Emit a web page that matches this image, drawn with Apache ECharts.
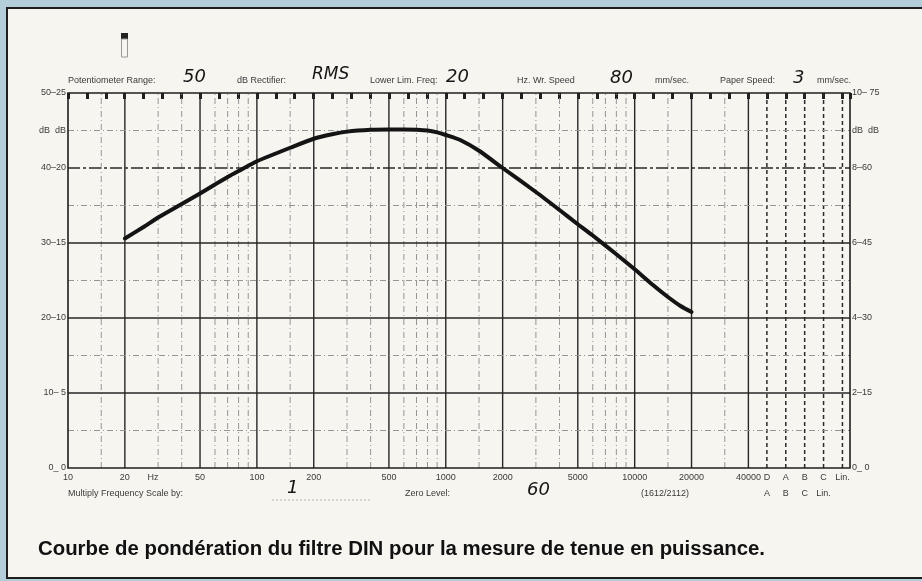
<!DOCTYPE html>
<html>
<head>
<meta charset="utf-8">
<title>Courbe de pondération du filtre DIN</title>
<script src="https://cdn.jsdelivr.net/npm/echarts@6/dist/echarts.min.js"></script>
<style>
  html, body { margin: 0; padding: 0; background: #b3cdd9; }
  #chart { width: 922px; height: 581px; }
</style>
</head>
<body>
<div id="chart"></div>
<script>
// Measured response of the DIN weighting filter (level recorder trace)
const freqHz = [20, 25, 30, 40, 50, 60, 70, 80, 100, 125, 150, 200, 250, 300, 400, 500,
  600, 700, 800, 900, 1000, 1200, 1500, 2000, 3000, 4000, 5000, 6000, 8000, 10000,
  12500, 15000, 17500, 20000];
const levelDb = [30.6, 32.1, 33.4, 35.2, 36.6, 37.8, 38.8, 39.6, 40.9, 41.9, 42.7, 43.9,
  44.5, 44.85, 45.1, 45.15, 45.15, 45.1, 45.0, 44.75, 44.4, 43.7, 42.3, 40.0, 36.8, 34.4,
  32.5, 31.0, 28.5, 26.5, 24.4, 22.8, 21.6, 20.8];

// Chart paper rulings (frequency in Hz, level in dB)
const boldFreqs = [20, 50, 100, 200, 500, 1000, 2000, 5000, 10000, 20000, 40000];
const lightFreqs = [15, 30, 40, 60, 70, 80, 90, 150, 300, 400, 600, 700, 800, 900,
  1500, 3000, 4000, 6000, 7000, 8000, 9000, 15000, 30000];
const boldLevels = [10, 20, 30];
const dashedLevels = [40];
const lightLevels = [5, 15, 25, 35, 45];

// Frequency scale labels and the weighting network columns
const freqLabels = ['10', '20', '50', '100', '200', '500', '1000', '2000', '5000',
  '10000', '20000', '40000'];
const weightingTop = ['D', 'A', 'B', 'C', 'Lin.'];
const weightingBottom = ['A', 'B', 'C', 'Lin.'];
// weighting columns sit on the decade scale past 40 kHz
const weightingLog = [4.7, 4.8, 4.9, 5.0, 5.1];

// Level scale labels (left: 50 dB / 25 dB ranges, right: 10 dB / 75 dB ranges)
const leftLevelLabels = { 50: '50–25', 45: 'dB  dB', 40: '40–20', 30: '30–15', 20: '20–10', 10: '10– 5', 0: '0_ 0' };
const rightLevelLabels = { 50: '10– 75', 45: 'dB  dB', 40: '8–60', 30: '6–45', 20: '4–30', 10: '2–15', 0: '0_ 0' };

const CAPTION = 'Courbe de pondération du filtre DIN pour la mesure de tenue en puissance.';

const LOG_MIN = 1;      // 10 Hz
const LOG_MAX = 5.14;   // right edge of the paper
const DB_MIN = 0, DB_MAX = 50;
const GRID = { left: 68, right: 72, top: 93, bottom: 113 };

const lg = f => Math.log10(f);
const curve = freqHz.map((f, i) => [lg(f), levelDb[i]]);

// label positions on the log axis
const labelEntries = freqLabels.map(t => ({ v: lg(+t), t }))
  .concat([{ v: 1.45, t: 'Hz' }])
  .concat(weightingTop.map((t, i) => ({ v: weightingLog[i], t })));

function nearestLabel(v) {
  let best = null, d = 1e9;
  for (const e of labelEntries) {
    const dd = Math.abs(e.v - v);
    if (dd < d) { d = dd; best = e; }
  }
  return best && d < 0.01 ? best.t : '';
}

function vRule(values, style) {
  return {
    type: 'custom',
    coordinateSystem: 'cartesian2d',
    silent: true,
    z: 1,
    data: values.map(v => [v, DB_MIN]),
    renderItem(params, api) {
      const x = api.value(0);
      const a = api.coord([x, DB_MIN]);
      const b = api.coord([x, DB_MAX]);
      return { type: 'line', shape: { x1: a[0], y1: a[1], x2: b[0], y2: b[1] }, style };
    }
  };
}

function hRule(values, style) {
  return {
    type: 'custom',
    coordinateSystem: 'cartesian2d',
    silent: true,
    z: 1,
    data: values.map(v => [LOG_MIN, v]),
    renderItem(params, api) {
      const y = api.value(1);
      const a = api.coord([LOG_MIN, y]);
      const b = api.coord([LOG_MAX, y]);
      return { type: 'line', shape: { x1: a[0], y1: a[1], x2: b[0], y2: b[1] }, style };
    }
  };
}

const lightStyle = { stroke: '#959595', lineWidth: 1, lineDash: [6, 3, 1, 3] };
const boldStyle = { stroke: '#262626', lineWidth: 1.4 };

const printed = { fontFamily: 'Liberation Sans, Arial, sans-serif', fontSize: 9, fill: '#3a3a3a' };
const hand = { fontFamily: 'DejaVu Sans, sans-serif', fontSize: 18, fill: '#151515', fontStyle: 'italic' };

function txt(x, y, text, style, align) {
  return { type: 'text', x, y, silent: true, z: 10,
    style: Object.assign({ text, textAlign: align || 'left', textVerticalAlign: 'middle' }, style) };
}

// the caption is set in a condensed bold face: squeeze a bold sans to the column width
const captionFont = 'bold 20px "Liberation Sans", Arial, sans-serif';
const measureCtx = document.createElement('canvas').getContext('2d');
measureCtx.font = captionFont;
const captionScale = 727 / measureCtx.measureText(CAPTION).width;

const chart = echarts.init(document.getElementById('chart'), null, { renderer: 'canvas' });

chart.setOption({
  animation: false,
  backgroundColor: '#b3cdd9',
  grid: Object.assign({
    show: true, borderColor: '#1f1f1f', borderWidth: 1.6, backgroundColor: 'transparent', z: 3
  }, GRID),
  xAxis: [
    {
      type: 'value', position: 'bottom', min: LOG_MIN, max: LOG_MAX,
      axisLine: { show: false, onZero: false }, axisTick: { show: false }, splitLine: { show: false },
      axisLabel: {
        customValues: labelEntries.map(e => e.v),
        formatter: v => nearestLabel(v),
        color: '#3a3a3a', fontSize: 9, fontFamily: 'Liberation Sans, Arial, sans-serif',
        margin: 5
      }
    },
    {
      type: 'value', position: 'top', min: LOG_MIN, max: LOG_MAX, interval: 0.1,
      axisLine: { show: false, onZero: false }, splitLine: { show: false }, axisLabel: { show: false },
      axisTick: { show: true, inside: true, length: 6, lineStyle: { color: '#1f1f1f', width: 3 } }
    }
  ],
  yAxis: [
    {
      type: 'value', position: 'left', min: DB_MIN, max: DB_MAX, interval: 5,
      axisLine: { show: false, onZero: false }, axisTick: { show: false }, splitLine: { show: false },
      axisLabel: {
        formatter: v => leftLevelLabels[v] || '',
        color: '#3a3a3a', fontSize: 9, fontFamily: 'Liberation Sans, Arial, sans-serif', margin: 2
      }
    },
    {
      type: 'value', position: 'right', min: DB_MIN, max: DB_MAX, interval: 5,
      axisLine: { show: false, onZero: false }, axisTick: { show: false }, splitLine: { show: false },
      axisLabel: {
        formatter: v => rightLevelLabels[v] || '',
        color: '#3a3a3a', fontSize: 9, fontFamily: 'Liberation Sans, Arial, sans-serif', margin: 2
      }
    }
  ],
  series: [
    vRule(lightFreqs.map(lg), lightStyle),
    vRule(boldFreqs.map(lg), boldStyle),
    vRule(weightingLog, { stroke: '#2a2a2a', lineWidth: 1.5, lineDash: [4, 3] }),
    hRule(lightLevels, lightStyle),
    hRule(dashedLevels, { stroke: '#2a2a2a', lineWidth: 1.3, lineDash: [12, 3, 3, 3] }),
    hRule(boldLevels, boldStyle),
    {
      type: 'line',
      name: 'DIN',
      data: curve,
      z: 5,
      smooth: 0.2,
      symbol: 'none',
      silent: true,
      lineStyle: { color: '#141414', width: 4, cap: 'round', join: 'round' }
    }
  ],
  graphic: [
    // paper sheet
    { type: 'rect', z: -10, silent: true,
      shape: { x: 7, y: 8, width: 930, height: 570 },
      style: { fill: '#f6f5f0', stroke: '#1e1e1e', lineWidth: 2 } },
    // pen marker
    { type: 'rect', silent: true, z: 10, shape: { x: 121, y: 33, width: 7, height: 6 }, style: { fill: '#222' } },
    { type: 'rect', silent: true, z: 10, shape: { x: 121.5, y: 39, width: 6, height: 18 },
      style: { fill: 'none', stroke: '#9a9a9a', lineWidth: 1 } },
    // recording settings
    txt(68, 81, 'Potentiometer Range:', printed),
    txt(183, 77, '50', hand),
    txt(237, 81, 'dB Rectifier:', printed),
    txt(312, 75, 'RMS', Object.assign({}, hand, { fontSize: 17 })),
    txt(370, 81, 'Lower Lim. Freq:', printed),
    txt(446, 77, '20', hand),
    txt(517, 81, 'Hz. Wr. Speed', printed),
    txt(610, 78, '80', hand),
    txt(655, 81, 'mm/sec.', printed),
    txt(720, 81, 'Paper Speed:', printed),
    txt(793, 78, '3', hand),
    txt(817, 81, 'mm/sec.', printed),
    // lower notes
    txt(68, 494, 'Multiply Frequency Scale by:', printed),
    txt(287, 488, '1', hand),
    { type: 'line', silent: true, z: 10, shape: { x1: 272, y1: 500, x2: 372, y2: 500 },
      style: { stroke: '#b5b5b5', lineWidth: 1, lineDash: [2, 2] } },
    txt(405, 494, 'Zero Level:', printed),
    txt(527, 490, '60', hand),
    txt(665, 494, '(1612/2112)', printed, 'center'),
    // weighting network labels, second row
    ...weightingBottom.map((t, i) => ({
      type: 'text', silent: true, z: 10,
      x: GRID.left + (weightingLog[i] - LOG_MIN) / (LOG_MAX - LOG_MIN) * (922 - GRID.left - GRID.right),
      y: 494,
      style: Object.assign({ text: t, textAlign: 'center', textVerticalAlign: 'middle' }, printed)
    })),
    // caption
    { type: 'text', silent: true, z: 10, x: 38, y: 549, scaleX: captionScale,
      style: { text: CAPTION, font: captionFont, fill: '#111', textAlign: 'left', textVerticalAlign: 'middle' } }
  ]
});
</script>
</body>
</html>
